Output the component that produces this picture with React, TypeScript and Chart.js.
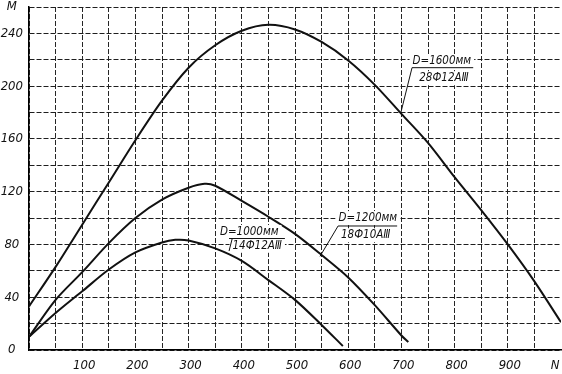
import React, { useEffect, useRef } from 'react';
import { Chart, registerables } from 'chart.js';

Chart.register(...registerables);

const FONT = '"DejaVu Sans Condensed", "DejaVu Sans", sans-serif';

// Curve D=1600 мм, 28Ф12АIII
const N_1600 = [0, 50, 100, 150, 200, 250, 300, 350, 400, 450, 500, 550, 600, 650, 700, 750, 800, 850, 900, 950, 1000];
const M_1600 = [33, 63, 95, 127, 159, 189, 214, 231, 242, 246.5, 243, 233.5, 219.5, 201, 179, 157, 131, 106, 80, 52, 21];

// Curve D=1200 мм, 18Ф10АIII
const N_1200 = [0, 50, 100, 150, 200, 250, 300, 330, 350, 400, 450, 500, 550, 600, 650, 700, 713];
const M_1200 = [10, 38, 59, 81, 100, 114, 123, 126, 124.5, 113, 101, 88, 72, 55, 34, 11, 6];

// Curve D=1000 мм, 14Ф12АIII
const N_1000 = [0, 50, 100, 150, 200, 250, 275, 300, 350, 400, 450, 500, 550, 590];
const M_1000 = [10, 28, 44.5, 61, 74, 81.5, 83.5, 83, 77, 67.5, 53, 38, 19, 3];

// Tick labels
const X_LABELED = [100, 200, 300, 400, 500, 600, 700, 800, 900];
const Y_LABELED = [0, 40, 80, 120, 160, 200, 240];
const X_TITLE = 'N';
const Y_TITLE = 'M';

// Curve labels
const NOTE_LINES = [
  ['D=1600мм', '28Ф12АⅢ'],
  ['D=1200мм', '18Ф10АⅢ'],
  ['D=1000мм', '14Ф12АⅢ'],
];

// Label placement (in data units N, M)
const NOTE_PLACES = [
  { t1: [776, 219], t2: [780, 206], under: [720, 835, 214], leader: [720, 214, 699, 180] },
  { t1: [637, 100], t2: [633, 87], under: [581, 692, 94], leader: [581, 94, 547, 71] },
  { t1: [414, 89.5], t2: [429, 79], under: [376, 481, 84.5], leader: [382, 84.5, 376, 75] },
];

const notesPlugin = {
  id: 'notes',
  afterDatasetsDraw(chart: any) {
    const { ctx, scales } = chart;
    const x = scales.x;
    const y = scales.y;
    ctx.save();
    ctx.font = `italic 11.5px ${FONT}`;
    ctx.textAlign = 'center';
    ctx.textBaseline = 'middle';
    NOTE_PLACES.forEach((p, i) => {
      const [l1, l2] = NOTE_LINES[i];
      const x1 = x.getPixelForValue(p.t1[0]);
      const y1 = y.getPixelForValue(p.t1[1]);
      const x2 = x.getPixelForValue(p.t2[0]);
      const y2 = y.getPixelForValue(p.t2[1]);
      const w1 = ctx.measureText(l1).width;
      const w2 = ctx.measureText(l2).width;
      ctx.fillStyle = '#fff';
      ctx.fillRect(x1 - w1 / 2 - 3, y1 - 7, w1 + 6, 14);
      ctx.fillRect(x2 - w2 / 2 - 3, y2 - 7, w2 + 6, 14);
      ctx.fillStyle = '#111';
      ctx.fillText(l1, x1, y1);
      ctx.fillText(l2, x2, y2);
      ctx.strokeStyle = '#111';
      ctx.lineWidth = 1;
      ctx.beginPath();
      ctx.moveTo(x.getPixelForValue(p.under[0]), y.getPixelForValue(p.under[2]));
      ctx.lineTo(x.getPixelForValue(p.under[1]), y.getPixelForValue(p.under[2]));
      ctx.moveTo(x.getPixelForValue(p.leader[0]), y.getPixelForValue(p.leader[1]));
      ctx.lineTo(x.getPixelForValue(p.leader[2]), y.getPixelForValue(p.leader[3]));
      ctx.stroke();
    });
    ctx.font = `italic 13px ${FONT}`;
    ctx.fillStyle = '#111';
    ctx.fillText(X_TITLE, x.getPixelForValue(1000) - 6, x.top + 16);
    ctx.restore();
  },
};

function line(N: number[], M: number[]) {
  return {
    data: N.map((n, i) => ({ x: n, y: M[i] })),
    borderColor: '#111',
    borderWidth: 2,
    pointRadius: 0,
    fill: false,
    tension: 0.3,
  };
}

export default function App() {
  const ref = useRef<HTMLCanvasElement | null>(null);
  useEffect(() => {
    if (!ref.current) return;
    const tickFont = { family: FONT, size: 13, style: 'italic' as const };
    const chart = new Chart(ref.current, {
      type: 'line',
      data: {
        datasets: [line(N_1600, M_1600), line(N_1200, M_1200), line(N_1000, M_1000)] as any,
      },
      plugins: [notesPlugin],
      options: {
        animation: false,
        responsive: true,
        maintainAspectRatio: false,
        layout: { padding: { top: 7, right: 1, left: 0, bottom: 0 } },
        plugins: { legend: { display: false }, tooltip: { enabled: false } },
        scales: {
          x: {
            type: 'linear',
            min: 0,
            max: 1000,
            ticks: {
              stepSize: 50,
              autoSkip: false,
              maxRotation: 0,
              labelOffset: 2,
              padding: 8,
              color: '#111',
              font: tickFont,
              callback: (v: any) => (X_LABELED.includes(Number(v)) ? String(v) : ''),
            },
            grid: {
              color: (c: any) => (c.tick && c.tick.value === 1000 ? 'rgba(0,0,0,0)' : '#262626'),
              lineWidth: 1,
              drawTicks: false,
            },
            border: { display: true, color: '#000', width: 1.5, dash: [5, 2] },
            afterFit: (s: any) => {
              s.height = 24;
              s.paddingLeft = 0;
              s.paddingRight = 0;
            },
          },
          y: {
            type: 'linear',
            min: 0,
            max: 260,
            ticks: {
              stepSize: 20,
              autoSkip: false,
              padding: 6,
              crossAlign: 'center',
              color: '#111',
              font: tickFont,
              callback: (v: any) => {
                const n = Number(v);
                if (n === 260) return Y_TITLE;
                return Y_LABELED.includes(n) ? String(n) : '';
              },
            },
            grid: { color: '#1e1e1e', lineWidth: 1, drawTicks: false },
            border: { display: true, color: '#000', width: 1.5, dash: [5, 2] },
            afterFit: (s: any) => {
              s.width = 29;
              s.paddingTop = 0;
              s.paddingBottom = 0;
            },
          },
        },
      },
    });
    return () => chart.destroy();
  }, []);
  return (
    <div style={{ position: 'absolute', left: 0, top: 0, width: 562, height: 374, background: '#fff' }}>
      <canvas ref={ref} />
    </div>
  );
}
